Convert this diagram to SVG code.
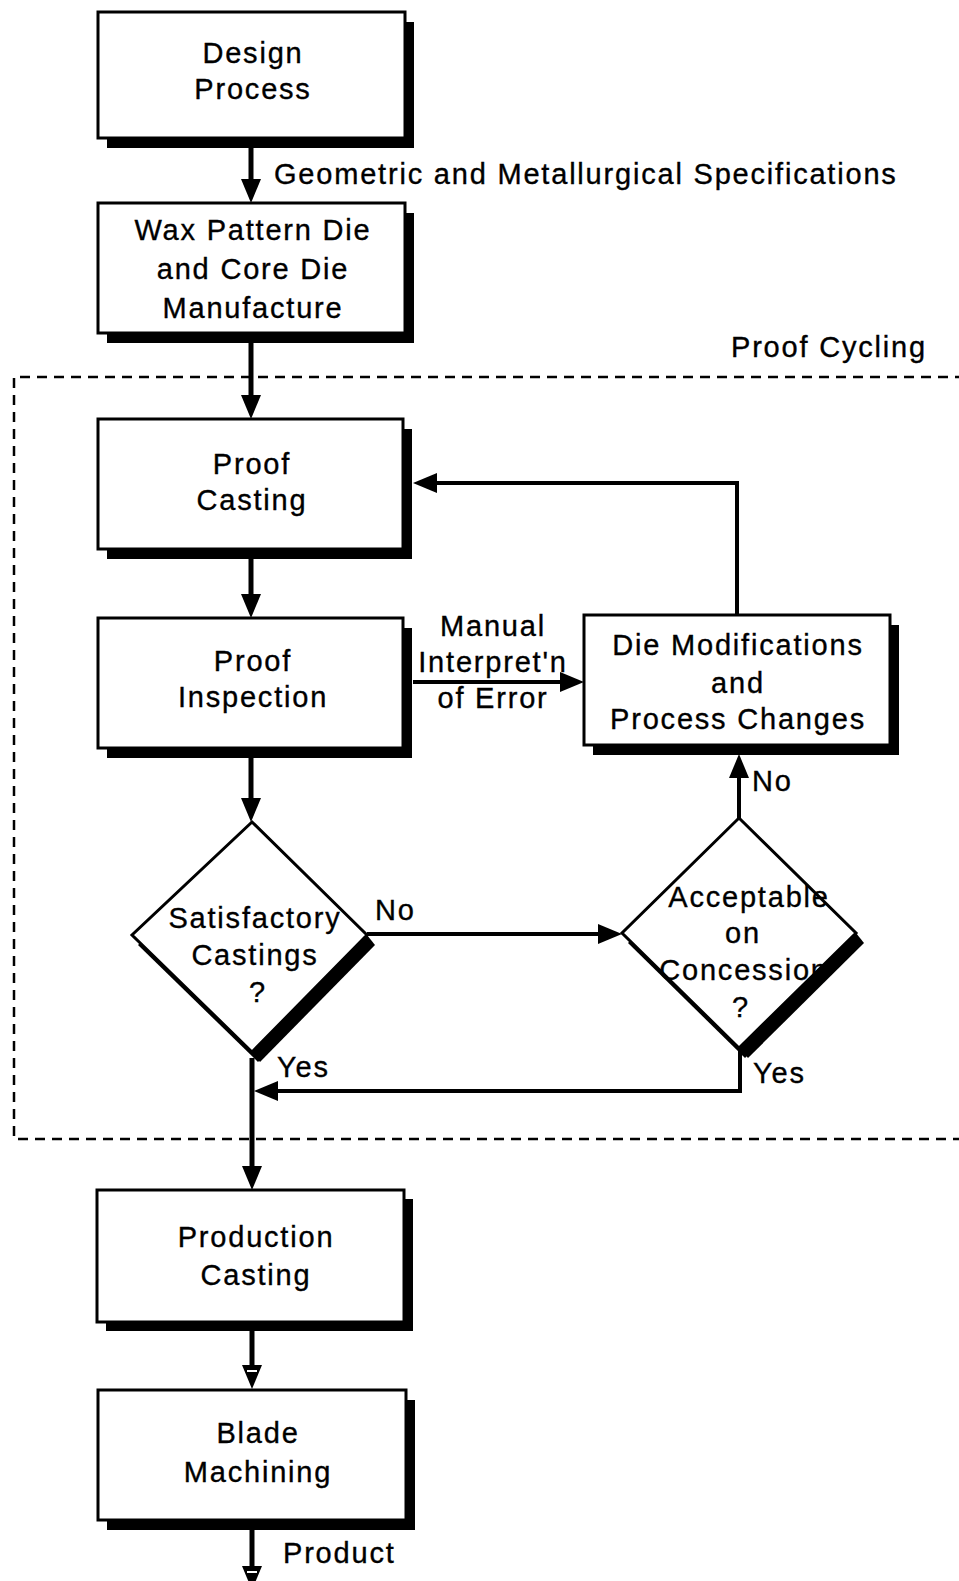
<svg xmlns="http://www.w3.org/2000/svg" width="959" height="1581" viewBox="0 0 959 1581">
  <style>
    text { font-family: "Liberation Sans", Arial, Helvetica, sans-serif; font-size: 29px; letter-spacing: 1.8px; fill: #000; stroke: #000; stroke-width: 0.35; }
    .c { text-anchor: middle; }
    .box { fill: #fff; stroke: #000; stroke-width: 3; }
    .shadow { fill: #000; }
    .dia { fill: none; stroke: #000; stroke-width: 3; stroke-linejoin: miter; }
    .flow { fill: none; stroke: #000; stroke-width: 5; }
    .thin { fill: none; stroke: #000; stroke-width: 4; }
    .frame { fill: none; stroke: #000; stroke-width: 2.5; stroke-dasharray: 10 7; }
  </style>
  <defs>
    <marker id="arrow" viewBox="0 0 24 20" refX="12" refY="10" markerWidth="24" markerHeight="20" markerUnits="userSpaceOnUse" orient="auto">
      <path d="M0,0 L24,10 L0,20 Z" fill="#000"/>
    </marker>
    <marker id="arrow-notch" viewBox="0 0 24 20" refX="12" refY="10" markerWidth="24" markerHeight="20" markerUnits="userSpaceOnUse" orient="auto">
      <path d="M0,0 L24,10 L0,20 Z" fill="#000"/>
      <path d="M6,5 L6,15" stroke="#fff" stroke-width="2"/>
    </marker>
  </defs>

  <!-- proof cycling frame -->
  <g id="proof-cycling-frame">
    <path class="frame" d="M965,377 L14,377 L14,1139 L965,1139"/>
    <text x="731" y="357">Proof Cycling</text>
  </g>

  <!-- connectors -->
  <g id="connectors">
    <line class="flow" x1="251" y1="148" x2="251" y2="191" marker-end="url(#arrow)"/>
    <text x="274" y="184">Geometric and Metallurgical Specifications</text>
    <line class="flow" x1="251" y1="343" x2="251" y2="407" marker-end="url(#arrow)"/>
    <line class="flow" x1="251" y1="559" x2="251" y2="606" marker-end="url(#arrow)"/>
    <line class="flow" x1="251" y1="758" x2="251" y2="810" marker-end="url(#arrow)"/>
    <line class="flow" x1="252" y1="1058" x2="252" y2="1178" marker-end="url(#arrow)"/>
    <line class="flow" x1="252" y1="1331" x2="252" y2="1377" marker-end="url(#arrow-notch)"/>
    <line class="flow" x1="252" y1="1530" x2="252" y2="1578" marker-end="url(#arrow-notch)"/>
    <text x="283" y="1563">Product</text>

    <line class="thin" x1="413" y1="682" x2="572" y2="682" marker-end="url(#arrow)"/>
    <text class="c" x="493" y="636">Manual</text>
    <text class="c" x="493" y="672">Interpret'n</text>
    <text class="c" x="493" y="708">of Error</text>

    <polyline class="thin" points="737,615 737,483 425,483" marker-end="url(#arrow)"/>

    <line class="thin" x1="367" y1="934" x2="610" y2="934" marker-end="url(#arrow)"/>
    <text x="375" y="920">No</text>

    <line class="thin" x1="739" y1="818" x2="739" y2="766" marker-end="url(#arrow)"/>
    <text x="752" y="791">No</text>

    <polyline class="thin" points="740,1050 740,1091 266,1091" marker-end="url(#arrow)"/>
    <text x="277" y="1077">Yes</text>
    <text x="753" y="1083">Yes</text>
  </g>

  <!-- process boxes -->
  <g id="design-process">
    <rect class="shadow" x="107" y="22" width="307" height="126"/>
    <rect class="box" x="98" y="12" width="307" height="126"/>
    <text class="c" x="253" y="63">Design</text>
    <text class="c" x="253" y="99">Process</text>
  </g>

  <g id="wax-pattern-die">
    <rect class="shadow" x="107" y="213" width="307" height="130"/>
    <rect class="box" x="98" y="203" width="307" height="130"/>
    <text class="c" x="253" y="240">Wax Pattern Die</text>
    <text class="c" x="253" y="279">and Core Die</text>
    <text class="c" x="253" y="318">Manufacture</text>
  </g>

  <g id="proof-casting">
    <rect class="shadow" x="107" y="429" width="305" height="130"/>
    <rect class="box" x="98" y="419" width="305" height="130"/>
    <text class="c" x="252" y="474">Proof</text>
    <text class="c" x="252" y="510">Casting</text>
  </g>

  <g id="proof-inspection">
    <rect class="shadow" x="107" y="628" width="305" height="130"/>
    <rect class="box" x="98" y="618" width="305" height="130"/>
    <text class="c" x="253" y="671">Proof</text>
    <text class="c" x="253" y="707">Inspection</text>
  </g>

  <g id="die-modifications">
    <rect class="shadow" x="593" y="625" width="306" height="130"/>
    <rect class="box" x="584" y="615" width="306" height="130"/>
    <text class="c" x="738" y="655">Die Modifications</text>
    <text class="c" x="738" y="693">and</text>
    <text class="c" x="738" y="729">Process Changes</text>
  </g>

  <!-- decisions -->
  <g id="satisfactory-castings">
    <polygon class="shadow" points="258,832 373,945 258,1062 138,945"/>
    <polygon points="252,822 367,935 252,1052 132,935" fill="#fff"/>
    <text class="c" x="255" y="928">Satisfactory</text>
    <text class="c" x="255" y="965">Castings</text>
    <text class="c" x="258" y="1002">?</text>
    <polygon class="shadow" points="367,935 375,945 260,1062 252,1052"/>
    <polygon class="dia" points="252,822 367,935 252,1052 132,935"/>
  </g>

  <g id="acceptable-on-concession">
    <polygon class="shadow" points="745,828 862,943 745,1058 628,943"/>
    <polygon points="739,818 856,933 739,1048 622,933" fill="#fff"/>
    <text class="c" x="749" y="907">Acceptable</text>
    <text class="c" x="743" y="943">on</text>
    <text class="c" x="744" y="980">Concession</text>
    <text class="c" x="741" y="1017">?</text>
    <polygon class="shadow" points="856,933 864,943 748,1058 739,1048"/>
    <polygon class="dia" points="739,818 856,933 739,1048 622,933"/>
  </g>

  <g id="production-casting">
    <rect class="shadow" x="106" y="1199" width="307" height="132"/>
    <rect class="box" x="97" y="1190" width="307" height="132"/>
    <text class="c" x="256" y="1247">Production</text>
    <text class="c" x="256" y="1285">Casting</text>
  </g>

  <g id="blade-machining">
    <rect class="shadow" x="107" y="1400" width="308" height="130"/>
    <rect class="box" x="98" y="1390" width="308" height="130"/>
    <text class="c" x="258" y="1443">Blade</text>
    <text class="c" x="258" y="1482">Machining</text>
  </g>
</svg>
